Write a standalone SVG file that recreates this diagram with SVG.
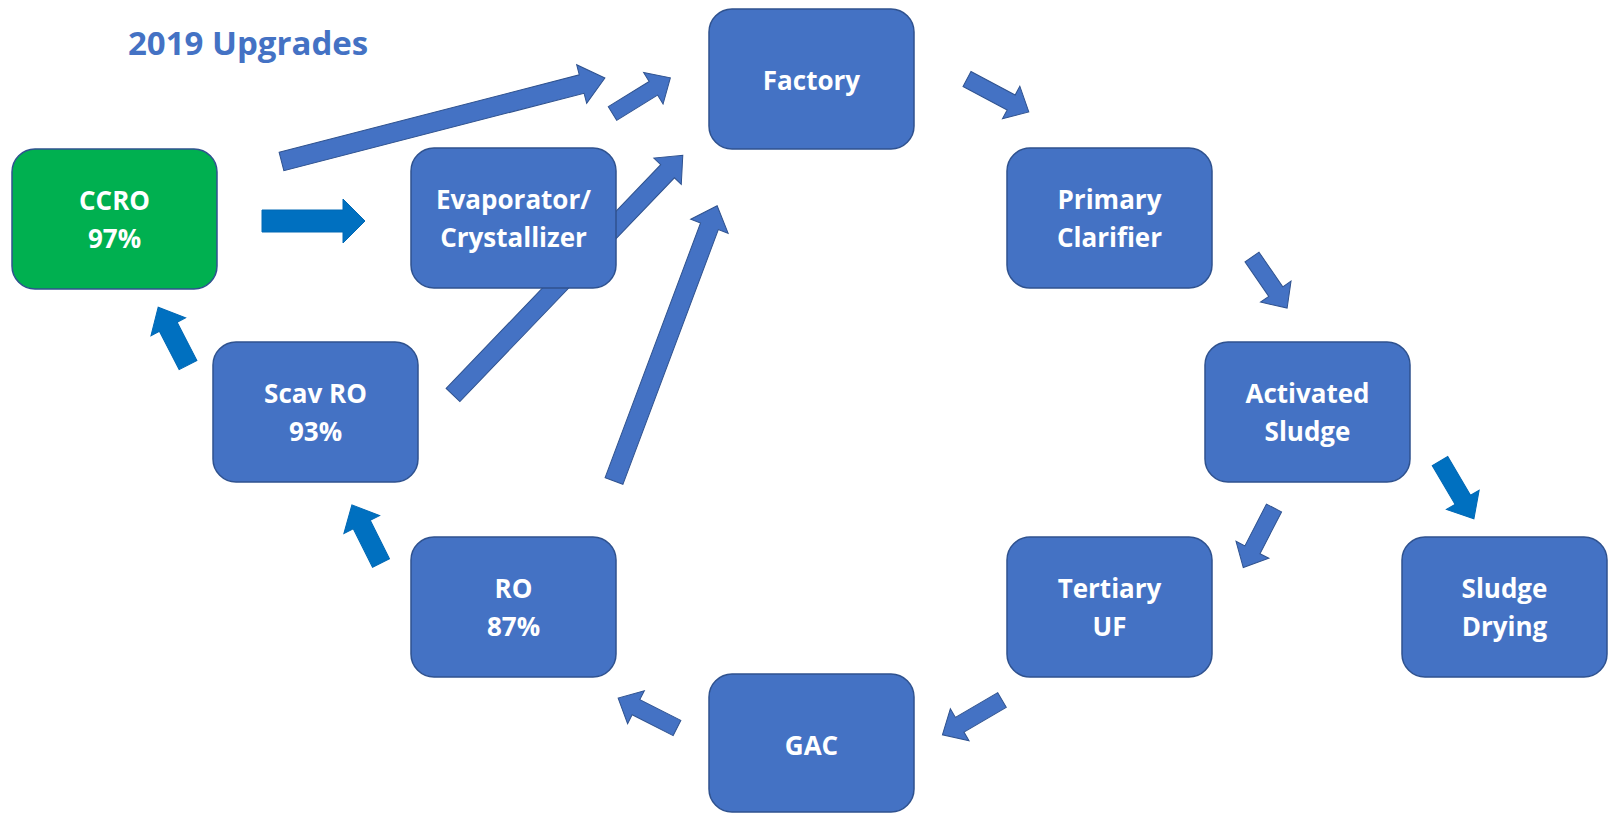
<svg xmlns="http://www.w3.org/2000/svg" width="1608" height="814" viewBox="0 0 1608 814">
  <style>
    .box { fill: #4472c4; stroke: #2f528f; stroke-width: 1.5; }
    .box.green { fill: #00b050; }
    .label { font-family: "Open Sans", "Liberation Sans", sans-serif; font-weight: 700; font-size: 26px; fill: #ffffff; text-anchor: middle; }
    .title { font-family: "Open Sans", "Liberation Sans", sans-serif; font-weight: 700; font-size: 33px; fill: #4472c4; }
    .arr { fill: #4472c4; stroke: #2f528f; stroke-width: 1; stroke-linejoin: miter; }
    .arr.dark { fill: #0070c0; stroke: #0068b4; }
  </style>

  <rect width="1608" height="814" fill="#ffffff"/>

  <text class="title" x="128" y="55">2019 Upgrades</text>

  <!-- block arrows: drawn first so boxes sit on top of them -->
  <g id="connectors">
    <!-- CCRO -> Factory (long) -->
    <path class="arr" transform="translate(281.5,161.5) rotate(-14.47)" d="M0,-9.5 H310 V-20 L334,0 L310,20 V9.5 H0 Z"/>
    <!-- Evaporator/Crystallizer -> Factory (short) -->
    <path class="arr" transform="translate(612.5,113.5) rotate(-31.7)" d="M0,-8 H48 V-18.5 L68,0 L48,18.5 V8 H0 Z"/>
    <!-- Scav RO -> Factory (passes behind the evaporator box) -->
    <path class="arr" transform="translate(453,395) rotate(-46.2)" d="M0,-9.5 H310 V-19 L332,0 L310,19 V9.5 H0 Z"/>
    <!-- RO -> Factory -->
    <path class="arr" transform="translate(614,481) rotate(-69.46)" d="M0,-9.5 H272 V-20 L294,0 L272,20 V9.5 H0 Z"/>
    <!-- CCRO -> Evaporator/Crystallizer -->
    <path class="arr dark" transform="translate(262,221)" d="M0,-11 H81 V-22 L103,0 L81,22 V11 H0 Z"/>
    <!-- Scav RO -> CCRO -->
    <path class="arr dark" transform="translate(188,365) rotate(-117.3)" d="M0,-10 H43 V-19.5 L65,0 L43,19.5 V10 H0 Z"/>
    <!-- RO -> Scav RO -->
    <path class="arr dark" transform="translate(381,563) rotate(-116.6)" d="M0,-9.5 H43 V-20 L65,0 L43,20 V9.5 H0 Z"/>
    <!-- Factory -> Primary Clarifier -->
    <path class="arr" transform="translate(967,79) rotate(28)" d="M0,-8.5 H50 V-18.5 L70,0 L50,18.5 V8.5 H0 Z"/>
    <!-- Primary Clarifier -> Activated Sludge -->
    <path class="arr" transform="translate(1252,257) rotate(55.5)" d="M0,-8.5 H42 V-18.5 L62,0 L42,18.5 V8.5 H0 Z"/>
    <!-- Activated Sludge -> Sludge Drying -->
    <path class="arr dark" transform="translate(1440,461) rotate(59.6)" d="M0,-9 H45 V-19 L67,0 L45,19 V9 H0 Z"/>
    <!-- Activated Sludge -> Tertiary UF -->
    <path class="arr" transform="translate(1274,508) rotate(117.3)" d="M0,-8.5 H47 V-18.5 L67,0 L47,18.5 V8.5 H0 Z"/>
    <!-- Tertiary UF -> GAC -->
    <path class="arr" transform="translate(1002,700) rotate(149.7)" d="M0,-8.5 H49 V-18.5 L69,0 L49,18.5 V8.5 H0 Z"/>
    <!-- GAC -> RO -->
    <path class="arr" transform="translate(677,728) rotate(-153.1)" d="M0,-8.5 H46 V-18.5 L66,0 L46,18.5 V8.5 H0 Z"/>
  </g>

  <g id="ccro">
    <rect class="box green" x="12" y="149" width="205" height="140" rx="23"/>
    <text class="label" x="114.5" y="210">CCRO</text>
    <text class="label" x="114.5" y="248">97%</text>
  </g>

  <g id="evaporator">
    <rect class="box" x="411" y="148" width="205" height="140" rx="23"/>
    <text class="label" x="513.5" y="209">Evaporator/</text>
    <text class="label" x="513.5" y="247">Crystallizer</text>
  </g>

  <g id="factory">
    <rect class="box" x="709" y="9" width="205" height="140" rx="23"/>
    <text class="label" x="811.5" y="90">Factory</text>
  </g>

  <g id="primary-clarifier">
    <rect class="box" x="1007" y="148" width="205" height="140" rx="23"/>
    <text class="label" x="1109.5" y="209">Primary</text>
    <text class="label" x="1109.5" y="247">Clarifier</text>
  </g>

  <g id="activated-sludge">
    <rect class="box" x="1205" y="342" width="205" height="140" rx="23"/>
    <text class="label" x="1307.5" y="403">Activated</text>
    <text class="label" x="1307.5" y="441">Sludge</text>
  </g>

  <g id="sludge-drying">
    <rect class="box" x="1402" y="537" width="205" height="140" rx="23"/>
    <text class="label" x="1504.5" y="598">Sludge</text>
    <text class="label" x="1504.5" y="636">Drying</text>
  </g>

  <g id="tertiary-uf">
    <rect class="box" x="1007" y="537" width="205" height="140" rx="23"/>
    <text class="label" x="1109.5" y="598">Tertiary</text>
    <text class="label" x="1109.5" y="636">UF</text>
  </g>

  <g id="gac">
    <rect class="box" x="709" y="674" width="205" height="138" rx="23"/>
    <text class="label" x="811.5" y="755">GAC</text>
  </g>

  <g id="ro">
    <rect class="box" x="411" y="537" width="205" height="140" rx="23"/>
    <text class="label" x="513.5" y="598">RO</text>
    <text class="label" x="513.5" y="636">87%</text>
  </g>

  <g id="scav-ro">
    <rect class="box" x="213" y="342" width="205" height="140" rx="23"/>
    <text class="label" x="315.5" y="403">Scav RO</text>
    <text class="label" x="315.5" y="441">93%</text>
  </g>
</svg>
